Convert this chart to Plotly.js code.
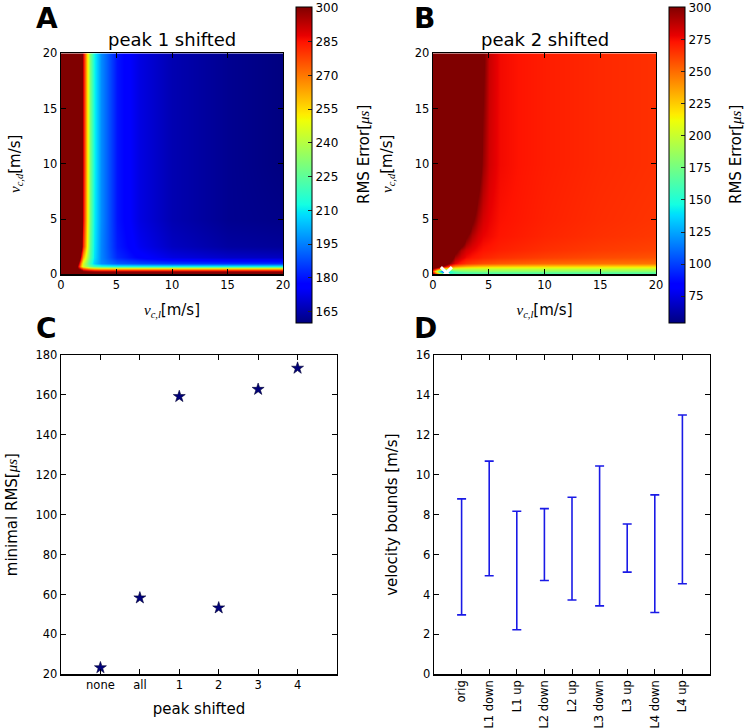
<!DOCTYPE html>
<html>
<head>
<meta charset="utf-8">
<script src="https://cdn.plot.ly/plotly-3.0.1.min.js"></script>
<style>html,body{margin:0;padding:0;background:#fff;}#plot{width:745px;height:728px;}</style>
</head>
<body>
<div id="plot"></div>
<script>
// ---------- Panel A: peak 1 shifted (RMS error grid) ----------
const xA = [0, 1.2, 1.5, 1.8, 2.0, 2.3, 2.6, 3.0, 3.6, 5, 7, 10, 15, 20];
const yA = [0, 0.2, 0.35, 0.5, 0.7, 1.0, 1.5, 2.5, 5, 10, 20];
const zA = [
  [330, 330, 330, 330, 320, 315, 312, 310, 308, 306, 305, 305, 305, 305],
  [400, 330, 320, 315, 312, 310, 310, 310, 310, 310, 310, 310, 310, 310],
  [400, 340, 320, 305, 295, 290, 288, 286, 285, 285, 285, 285, 285, 285],
  [400, 330, 300, 285, 275, 268, 262, 258, 256, 255, 255, 255, 255, 255],
  [400, 340, 290, 260, 245, 235, 228, 222, 218, 215, 214, 213, 213, 213],
  [400, 360, 300, 265, 245, 230, 218, 206, 197, 190, 187, 185, 184, 184],
  [400, 380, 330, 285, 262, 240, 224, 209, 196, 183, 177, 172, 169, 168],
  [400, 400, 370, 310, 282, 250, 226, 210, 196, 181, 174, 168, 164, 163],
  [400, 400, 380, 318, 288, 254, 229, 211, 197, 180, 172, 166, 162, 161],
  [400, 400, 380, 320, 290, 255, 230, 212, 197, 180, 172, 166, 162, 160],
  [400, 400, 380, 320, 290, 255, 230, 212, 197, 180, 172, 166, 162, 160]
];
const ticksA = [165, 180, 195, 210, 225, 240, 255, 270, 285, 300];

// ---------- Panel B: peak 2 shifted ----------
const xB = [0, 0.5, 1, 1.5, 2, 2.5, 3, 3.5, 4, 4.5, 5, 6, 8, 10, 15, 20];
const yB = [0, 0.15, 0.3, 0.5, 0.7, 1.0, 1.5, 2.2, 3.5, 5, 10, 20];
const zB = [
  [300, 250, 190, 175, 168, 165, 163, 162, 162, 162, 162, 162, 162, 162, 162, 162],
  [280, 180, 120, 150, 160, 163, 165, 166, 167, 168, 168, 168, 168, 168, 168, 168],
  [250, 150, 70, 150, 168, 174, 177, 178, 179, 180, 180, 180, 180, 180, 180, 180],
  [300, 260, 220, 208, 204, 202, 201, 200, 200, 200, 200, 200, 200, 200, 200, 200],
  [350, 320, 285, 255, 242, 236, 232, 229, 227, 226, 225, 224, 223, 222, 221, 220],
  [400, 380, 335, 295, 278, 270, 265, 262, 260, 258, 257, 255, 253, 251, 249, 248],
  [400, 400, 380, 320, 292, 282, 276, 273, 271, 269, 268, 266, 264, 262, 259, 257],
  [400, 400, 400, 360, 310, 290, 282, 278, 275, 273, 272, 270, 268, 266, 263, 261],
  [400, 400, 400, 400, 380, 340, 305, 290, 282, 278, 276, 273, 271, 269, 266, 264],
  [400, 400, 400, 400, 400, 380, 340, 305, 290, 282, 278, 274, 272, 270, 267, 265],
  [400, 400, 400, 400, 400, 400, 380, 350, 315, 295, 283, 276, 273, 271, 268, 266],
  [400, 400, 400, 400, 400, 400, 400, 380, 340, 305, 285, 276, 273, 271, 268, 266]
];
const ticksB = [75, 100, 125, 150, 175, 200, 225, 250, 275, 300];
const minMarkerX = [1.2];
const minMarkerY = [0.15];

// ---------- Panel C ----------
const peakCats = ['none', 'all', '1', '2', '3', '4'];
const minRMS = [23.3, 58.3, 159.2, 53.3, 162.8, 173.4];

// ---------- Panel D ----------
const boundCats = ['orig', 'L1 down', 'L1 up', 'L2 down', 'L2 up', 'L3 down', 'L3 up', 'L4 down', 'L4 up'];
const lowerBound = [2.98, 4.94, 2.23, 4.70, 3.72, 3.43, 5.12, 3.10, 4.54];
const upperBound = [8.79, 10.68, 8.17, 8.30, 8.87, 10.44, 7.53, 8.99, 12.99];

// ---------- styling ----------
const jet = [
  [0, 'rgb(0,0,128)'], [0.11, 'rgb(0,0,255)'], [0.125, 'rgb(0,0,255)'],
  [0.34, 'rgb(0,219,255)'], [0.35, 'rgb(0,230,247)'], [0.375, 'rgb(20,255,226)'],
  [0.64, 'rgb(239,255,8)'], [0.65, 'rgb(247,245,0)'], [0.66, 'rgb(255,236,0)'],
  [0.89, 'rgb(255,19,0)'], [0.91, 'rgb(232,0,0)'], [1, 'rgb(128,0,0)']
];
const FONT = 'DejaVu Sans';
const SERIF = 'Liberation Serif';
const W = 745, H = 728;
const px = v => v / W;
const py = v => 1 - v / H;

function mathV(sub) {
  return '<i><span style="font-family:' + SERIF + '">v</span></i><sub><i><span style="font-family:' + SERIF + '">' + sub + '</span></i></sub>[m/s]';
}
const mu = '<i><span style="font-family:' + SERIF + '">μs</span></i>';

function frameAxis(extra) {
  return Object.assign({
    showline: true, linecolor: '#000', linewidth: 1.3, mirror: 'ticks',
    ticks: 'inside', ticklen: 5, tickwidth: 1, tickcolor: '#000',
    showgrid: false, zeroline: false,
    tickfont: {family: FONT, size: 11.5, color: '#000'}
  }, extra);
}

const CB_TOP = 7, CB_BOT = 323;
function cbar(x, vals) {
  return {
    x: x, xanchor: 'left', xref: 'paper', xpad: 0,
    y: py((CB_TOP + CB_BOT) / 2), yanchor: 'middle', yref: 'paper', ypad: 0,
    len: (CB_BOT - CB_TOP) / H, lenmode: 'fraction',
    thickness: 16, thicknessmode: 'pixels',
    outlinewidth: 1, outlinecolor: '#000',
    ticks: 'inside', ticklen: 4, tickcolor: '#222',
    tickmode: 'array', tickvals: vals,
    ticklabeloverflow: 'allow',
    tickfont: {family: FONT, size: 12, color: '#000'}
  };
}

const data = [
  {
    type: 'heatmap', x: xA, y: yA, z: zA, xaxis: 'x', yaxis: 'y',
    colorscale: jet, zmin: 160, zmax: 300.4, zsmooth: 'best',
    colorbar: cbar(px(296), ticksA), hoverinfo: 'skip'
  },
  {
    type: 'heatmap', x: xB, y: yB, z: zB, xaxis: 'x2', yaxis: 'y2',
    colorscale: jet, zmin: 54, zmax: 300.6, zsmooth: 'best',
    colorbar: cbar(px(668.5), ticksB), hoverinfo: 'skip'
  },
  {
    type: 'scatter', mode: 'markers', x: minMarkerX, y: minMarkerY, xaxis: 'x2', yaxis: 'y2',
    marker: {symbol: 'x-thin', size: 11, line: {color: '#fff', width: 3}},
    cliponaxis: true, showlegend: false, hoverinfo: 'skip'
  },
  {
    type: 'scatter', mode: 'markers', x: peakCats, y: minRMS, xaxis: 'x3', yaxis: 'y3',
    marker: {symbol: 'star', size: 9, color: '#00007a', line: {color: '#000033', width: 0.6}},
    showlegend: false, cliponaxis: false
  },
  {
    type: 'scatter', mode: 'markers', x: boundCats, y: lowerBound, xaxis: 'x4', yaxis: 'y4',
    marker: {size: 2, opacity: 0},
    error_y: {
      type: 'data', symmetric: false,
      array: upperBound.map((u, i) => u - lowerBound[i]),
      arrayminus: lowerBound.map(() => 0),
      color: '#1a1ae6', thickness: 1.6, width: 4.5
    },
    showlegend: false
  }
];

const domAx = [px(61), px(283)], domBx = [px(433), px(656)];
const domTopY = [py(274.3), py(53.3)];
const domCx = [px(61), px(337)], domDx = [px(434), px(710)];
const domBotY = [py(674.3), py(355)];

function label(text, x, y, size, extra) {
  return Object.assign({text: text, x: px(x), y: py(y), xref: 'paper', yref: 'paper',
    xanchor: 'center', yanchor: 'middle', showarrow: false, font: {family: FONT, size: size, color: '#000'}}, extra || {});
}

const layout = {
  width: W, height: H,
  margin: {l: 0, r: 0, t: 0, b: 0},
  paper_bgcolor: '#fff', plot_bgcolor: '#fff',
  font: {family: FONT, color: '#000'},
  showlegend: false,
  xaxis: frameAxis({domain: domAx, anchor: 'y', range: [0, 20], dtick: 5, tick0: 0,
    title: {text: mathV('c,l'), font: {family: FONT, size: 15}, standoff: 13}}),
  yaxis: frameAxis({domain: domTopY, anchor: 'x', range: [0, 20], dtick: 5, tick0: 0,
    title: {text: mathV('c,d'), font: {family: FONT, size: 15}, standoff: 18}}),
  xaxis2: frameAxis({domain: domBx, anchor: 'y2', range: [0, 20], dtick: 5, tick0: 0,
    title: {text: mathV('c,l'), font: {family: FONT, size: 15}, standoff: 13}}),
  yaxis2: frameAxis({domain: domTopY, anchor: 'x2', range: [0, 20], dtick: 5, tick0: 0,
    title: {text: mathV('c,d'), font: {family: FONT, size: 15}, standoff: 18}}),
  xaxis3: frameAxis({domain: domCx, anchor: 'y3', type: 'category', range: [-1, 6],
    title: {text: 'peak shifted', font: {family: FONT, size: 15}, standoff: 12}}),
  yaxis3: frameAxis({domain: domBotY, anchor: 'x3', range: [20, 180], dtick: 20, tick0: 0,
    title: {text: 'minimal RMS[' + mu + ']', font: {family: FONT, size: 15}, standoff: 14}}),
  xaxis4: frameAxis({domain: domDx, anchor: 'y4', type: 'category', range: [-1, 9], tickangle: -90}),
  yaxis4: frameAxis({domain: domBotY, anchor: 'x4', range: [0, 16], dtick: 2, tick0: 0,
    title: {text: 'velocity bounds [m/s]', font: {family: FONT, size: 15}, standoff: 14}}),
  annotations: [
    label('<b>A</b>', 34, 18, 28, {xanchor: 'left'}),
    label('<b>B</b>', 412, 18, 28, {xanchor: 'left'}),
    label('<b>C</b>', 34, 329, 28, {xanchor: 'left'}),
    label('<b>D</b>', 412, 329, 28, {xanchor: 'left'}),
    label('peak 1 shifted', 172, 39, 18),
    label('peak 2 shifted', 544.5, 39, 18),
    label('RMS Error[' + mu + ']', 364, 155, 15, {textangle: -90}),
    label('RMS Error[' + mu + ']', 736, 155, 15, {textangle: -90})
  ]
};

Plotly.newPlot('plot', data, layout, {staticPlot: true, displayModeBar: false});
</script>
</body>
</html>
